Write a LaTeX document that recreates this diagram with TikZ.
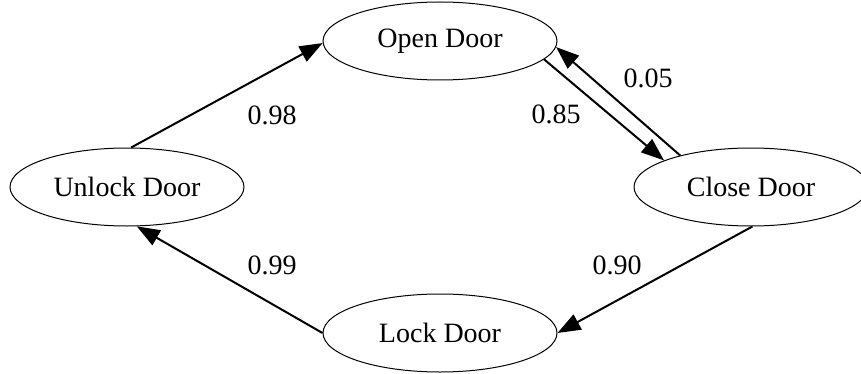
\documentclass[tikz,border=0pt]{standalone}
\usepackage{fontspec}
\setmainfont{Liberation Serif}
\usetikzlibrary{arrows.meta, shapes.geometric}

\begin{document}
\begin{tikzpicture}[x=0.5pt, y=-0.5pt, >={Triangle[length=11.5pt, width=8.5pt]},
      act/.style={draw, ellipse, line width=0.5pt, inner sep=0pt,
                  minimum width=117pt, minimum height=39pt,
                  font=\fontsize{14}{17}\selectfont},
      prob/.style={font=\fontsize{14}{17}\selectfont, inner sep=0pt},
      flow/.style={->, line width=1pt}]

    % page frame (pixel units, origin top left)
    \useasboundingbox (0,0) rectangle (861,374);

    % the four actions
    \node[act] (open)   at (440, 41)  {Open Door};
    \node[act] (unlock) at (127, 187) {Unlock Door};
    \node[act] (close)  at (751, 187) {Close Door};
    \node[act] (lock)   at (440, 333) {Lock Door};

    % transitions
    \draw[flow] (unlock.84)  -- (open.181);
    \draw[flow] (open.-10.5) -- (close.163);
    \draw[flow] (close.156.5) -- (open.-3.5);
    \draw[flow] (close.-88.5) -- (lock.0);
    \draw[flow] (lock.180)   -- (unlock.-76);

    % probabilities
    \node[prob] (p98) at (272, 115) {0.98};
    \node[prob] (p85) at (556, 114) {0.85};
    \node[prob] (p05) at (648, 78)  {0.05};
    \node[prob] (p90) at (617, 265) {0.90};
    \node[prob] (p99) at (272, 265) {0.99};

\end{tikzpicture}
\end{document}
